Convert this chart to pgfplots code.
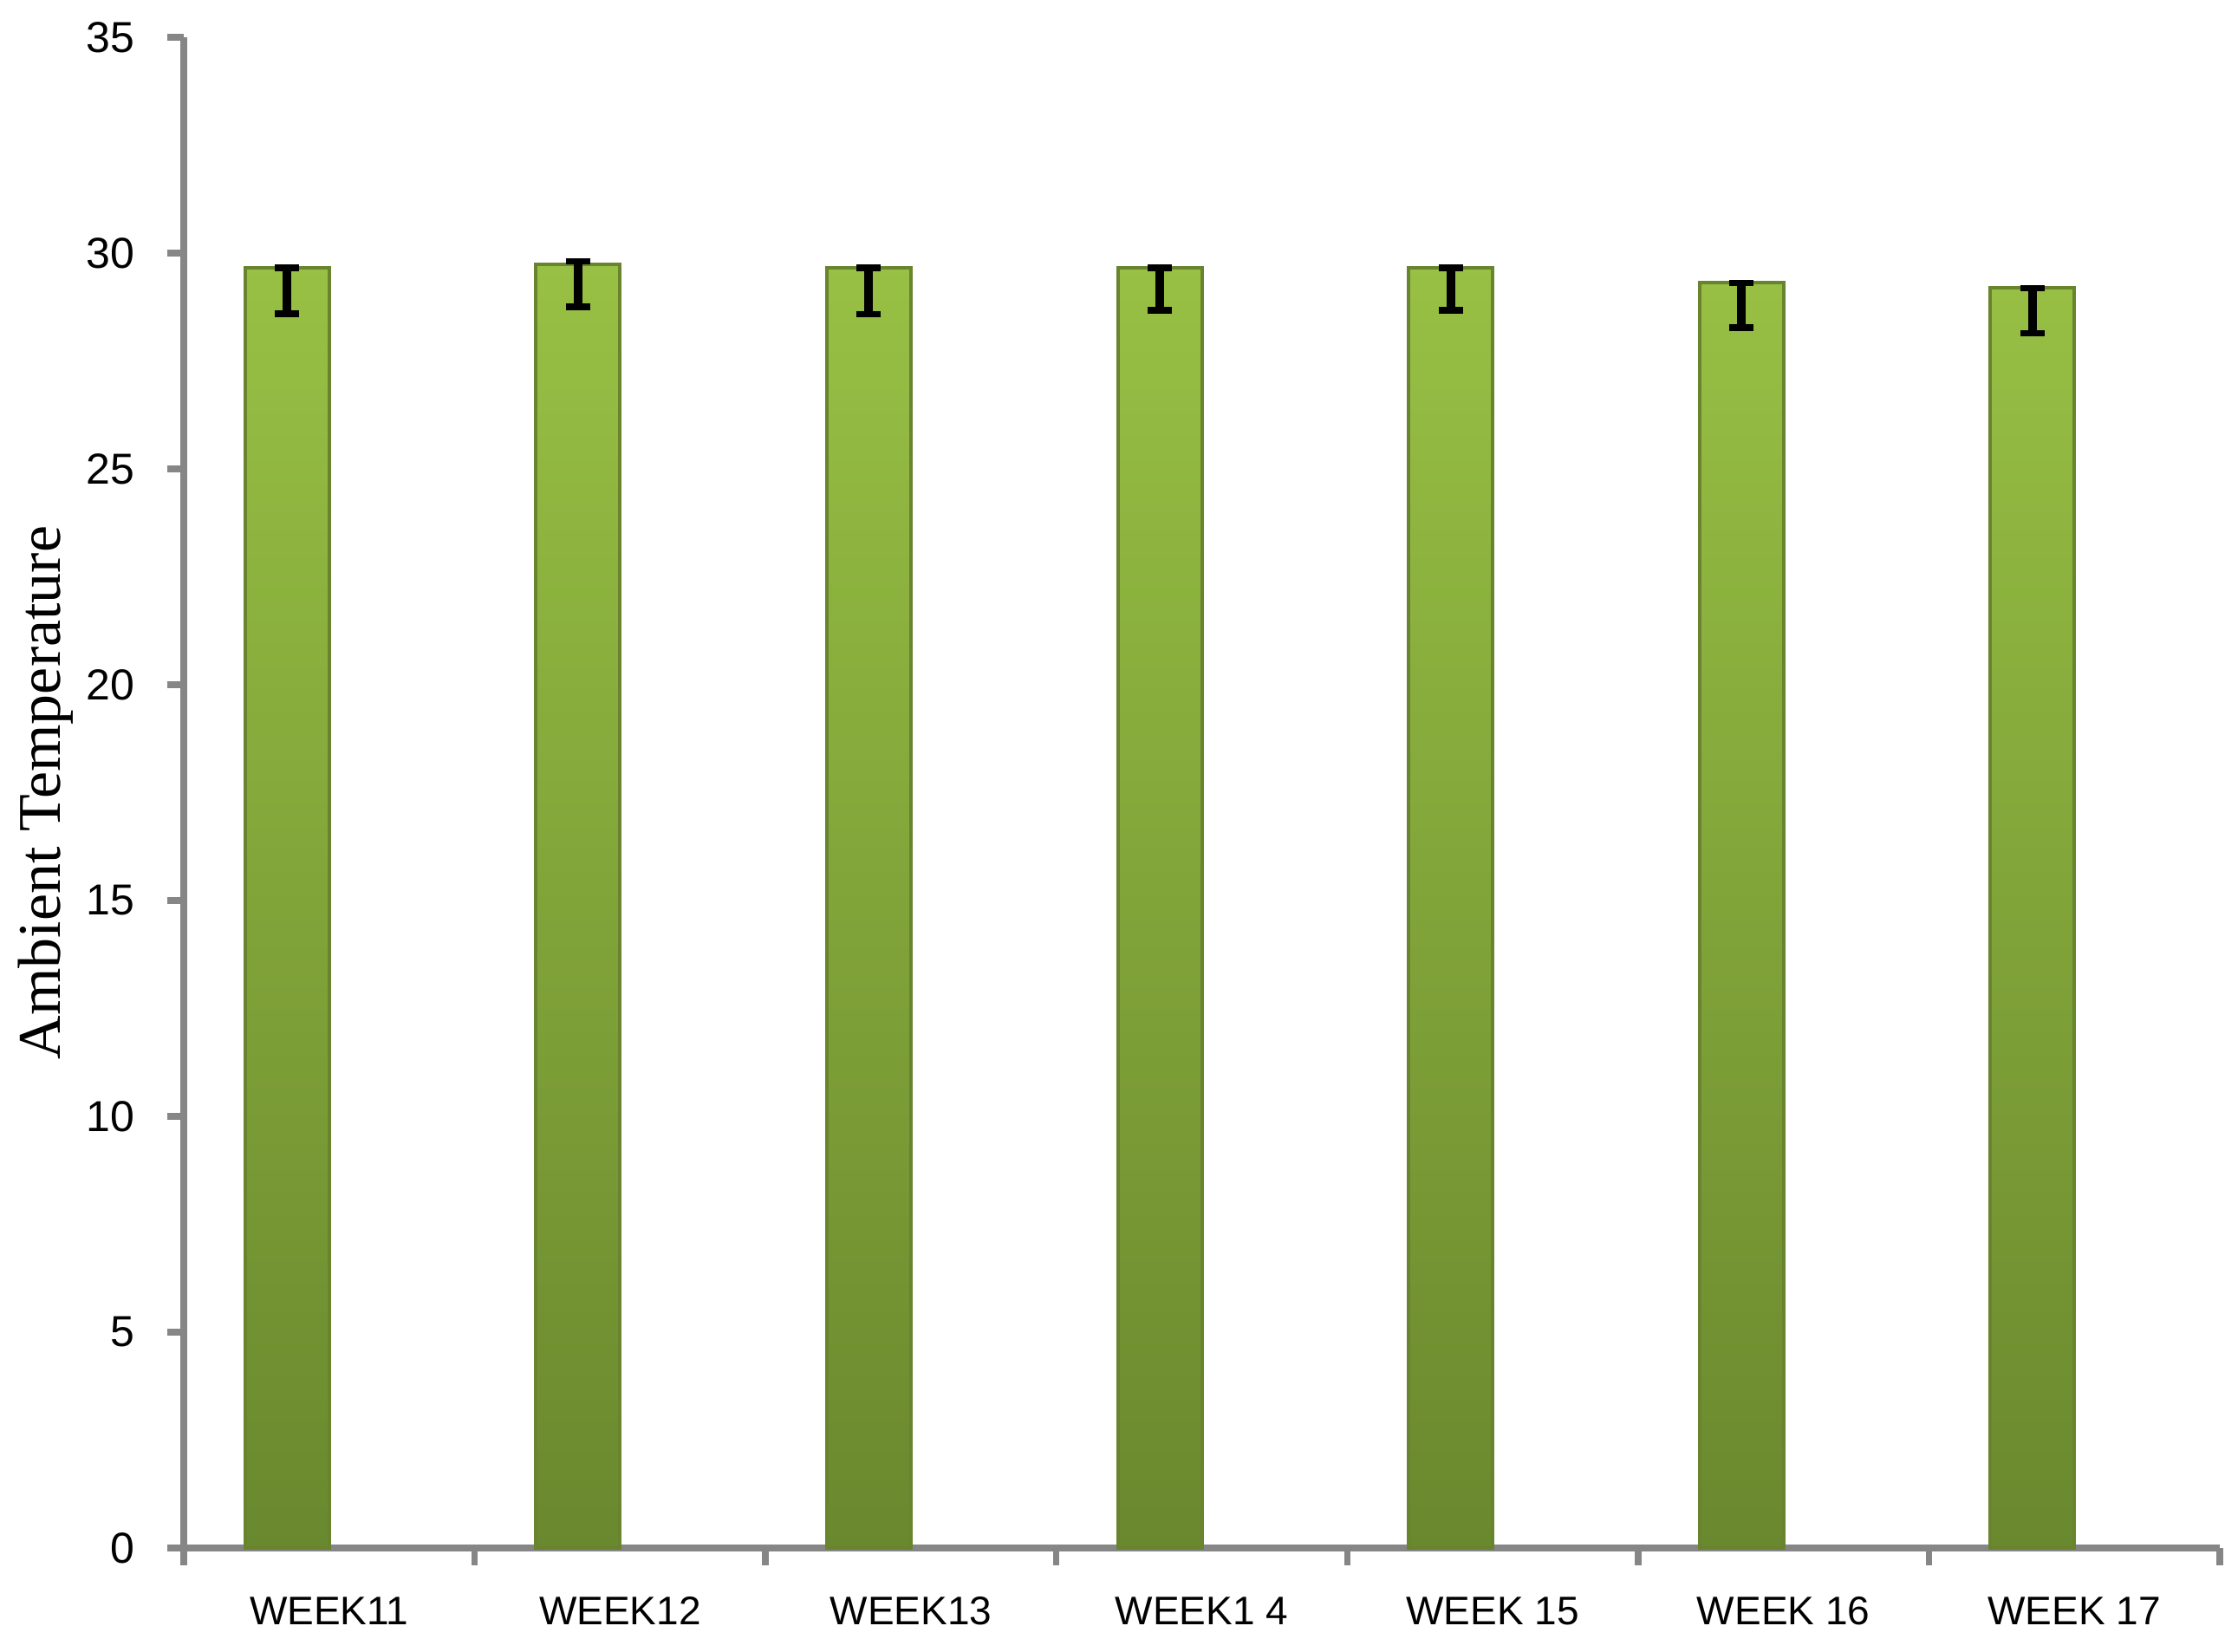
\documentclass[border=0pt]{standalone}
\usepackage{fontspec}
\setmainfont{Liberation Serif}
\newfontfamily\tickfont{Liberation Sans}
\usepackage{pgfplots}
\pgfplotsset{compat=1.18}
\definecolor{axisgray}{RGB}{134,134,134}
\definecolor{barTop}{RGB}{152,192,68}
\definecolor{barMid}{RGB}{138,176,60}
\definecolor{barBot}{RGB}{106,136,46}
\definecolor{barEdge}{RGB}{104,132,46}
\begin{document}
\begin{tikzpicture}
\begin{axis}[
  scale only axis,
  width=469.8pt, height=348.6pt,
  ybar, bar width=19.4pt, bar shift=-9.7pt,
  xmin=-0.5, xmax=6.5, ymin=0, ymax=35,
  axis lines*=left,
  axis line style={axisgray, line width=1.5pt},
  tick align=outside,
  ytick={0,5,...,35},
  major tick length=3.8pt,
  minor tick length=4pt,
  every tick/.style={axisgray, line width=1.5pt},
  xtick={0,...,6},
  xticklabels={WEEK11,WEEK12,WEEK13,WEEK1 4,WEEK 15,WEEK 16,WEEK 17},
  major x tick style={draw=none},
  minor xtick={-0.5,0.5,...,6.5},
  /pgf/number format/assume math mode=true,
  yticklabel style={font=\tickfont\fontsize{10}{12}\selectfont, xshift=-4pt},
  xticklabel style={font=\tickfont\fontsize{9.2}{11}\selectfont, yshift=-4pt},
  ylabel={Ambient Temperature},
  ylabel style={font=\fontsize{14}{16}\selectfont, at={(axis description cs:-0.0677,0.5)}, anchor=center},
  clip=false,
]
\addplot[
  draw=barEdge, line width=0.8pt,
  top color=barTop, middle color=barMid, bottom color=barBot,
  error bars/.cd, y dir=both, y explicit,
  error bar style={black, line width=2pt},
  error mark options={black, rotate=90, mark size=2.8pt, line width=1.5pt},
] coordinates {
  (0,29.66) += (0,0) -= (0,1.07)
  (1,29.74) += (0,0.07) -= (0,0.99)
  (2,29.66) += (0,0) -= (0,1.08)
  (3,29.66) += (0,0) -= (0,0.99)
  (4,29.66) += (0,0) -= (0,0.99)
  (5,29.31) += (0,0) -= (0,1.04)
  (6,29.19) += (0,0) -= (0,1.05)
};
\end{axis}
\pgfresetboundingbox
\path ([shift={(-42.4pt,-24pt)}]current axis.south west) rectangle ([shift={(4.2pt,8.6pt)}]current axis.north east);
\end{tikzpicture}
\end{document}
